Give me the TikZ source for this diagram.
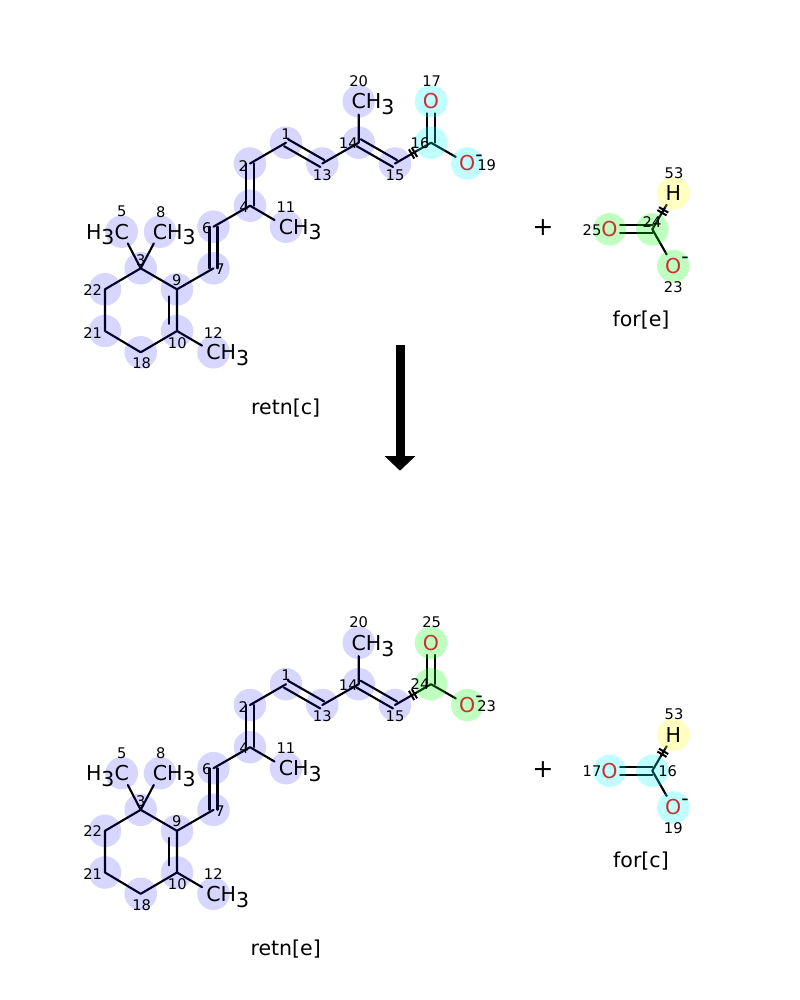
\documentclass[tikz,border=0pt]{standalone}
\usepackage{fontspec}
\setmainfont{DejaVu Sans}
\usetikzlibrary{calc,arrows.meta}
\pgfdeclarelayer{bonds}\pgfdeclarelayer{marks}
\pgfsetlayers{bonds,marks,main}
\definecolor{oxred}{RGB}{200,50,50}
\definecolor{hlblue}{RGB}{0,0,255}
\definecolor{hlcyan}{RGB}{0,255,255}
\definecolor{hlgreen}{RGB}{0,255,0}
\definecolor{hlyellow}{RGB}{255,255,0}
\newcommand\lowthree{\smash{\raisebox{-.28em}{3}}}
\newcommand\minus{\smash{\rlap{\raisebox{.47em}{\color{black}-}}}}
% double bond, both lines off the axis
\newcommand\dbond[3][0pt]{%
  \draw[bond,shorten >=#1] ($(#2)!3pt!90:(#3)$) -- ($(#3)!3pt!-90:(#2)$);
  \draw[bond,shorten >=#1] ($(#2)!3pt!-90:(#3)$) -- ($(#3)!3pt!90:(#2)$);}
% two ticks across a bond
\newcommand\brk[2]{%
  \draw[tick] ($(#1)!0.46!(#2)!4pt!90:(#2)$) -- ($(#1)!0.46!(#2)!4pt!-90:(#2)$);
  \draw[tick] ($(#1)!0.54!(#2)!4pt!90:(#2)$) -- ($(#1)!0.54!(#2)!4pt!-90:(#2)$);}
\tikzset{
  bond/.style={line width=1.6pt,line cap=round},
  tick/.style={line width=1.5pt},
  atm/.style={circle,inner sep=0pt,minimum size=19.5pt,font=\fontsize{15.4}{18}\selectfont},
  num/.style={inner sep=0pt,font=\fontsize{11}{13}\selectfont},
  title/.style={inner sep=0pt,font=\fontsize{15.4}{18}\selectfont},
  hl/.style={fill=#1,fill opacity=0.25},
}
\begin{document}
\begin{tikzpicture}[x=0.75pt,y=-0.75pt]
\useasboundingbox (0,0) rectangle (800,1000);
\foreach \dy/\acol/\ac/\ao/\aom/\fcol/\fc/\fo/\fom/\fnx/\fny/\rname/\fname in
  {0/hlcyan/16/17/19/hlgreen/24/25/23/652/221.7/{retn[c]}/{for[e]},
   541.5/hlgreen/24/25/23/hlcyan/16/17/19/667.7/230/{retn[e]}/{for[c]}}{
\begin{scope}[shift={(0,\dy)}]
  % retinoate skeleton
  \coordinate (c1) at (286,142.7);
  \coordinate (c2) at (250,163.5);
  \coordinate (c13) at (322.3,163.5);
  \coordinate (c14) at (358.7,142.7);
  \coordinate (c15) at (395,163.5);
  \coordinate (ca) at (431,142.7);
  \coordinate (c4) at (250,205.7);
  \coordinate (c6) at (213.5,226.7);
  \coordinate (c7) at (213.5,268.3);
  \coordinate (c9) at (177,289.3);
  \coordinate (c3) at (140.7,268.3);
  \coordinate (c22) at (105,289.3);
  \coordinate (c21) at (105,331);
  \coordinate (c18) at (140.7,352.3);
  \coordinate (c10) at (177,331);
  \node[atm] (c20) at (358.7,101.3) {C\rlap{H\lowthree}};
  \node[atm] (c11) at (286,226.7) {C\rlap{H\lowthree}};
  \node[atm] (c12) at (213.5,352.3) {C\rlap{H\lowthree}};
  \node[atm] (c5) at (121.7,231.7) {\llap{H\lowthree}C};
  \node[atm] (c8) at (160,231.7) {C\rlap{H\lowthree}};
  \node[atm,oxred] (oa) at (431,101.3) {O};
  \node[atm,oxred] (ob) at (467.3,163.5) {O\minus};
  % formate
  \coordinate (fc) at (652.3,229.3);
  \node[atm,oxred] (fo) at (609.5,229.3) {O};
  \node[atm] (fh) at (673.3,193.3) {H};
  \node[atm,oxred] (fom) at (673.3,266) {O\minus};
  % atom numbers
  \foreach \n/\px/\py in {1/286/134, 2/243.3/166, 3/140.7/260, 4/244/206.7,
      5/121.7/211.7, 6/206.7/227.7, 7/220/269.3, 8/160.7/211.7, 9/176.7/280,
      10/177.3/342.7, 11/286/206.7, 12/213.3/332.7, 13/322.3/175,
      14/348.3/143.3, 15/395/175, 18/141.7/363.3, 20/358.7/80.7,
      21/92.7/332.7, 22/92.7/290, \ac/420/142.7, \ao/431.7/80.7,
      \aom/486.7/165, 53/674/172.7, \fo/592/230, \fc/\fnx/\fny,
      \fom/673.3/286.7}
    \node[num] (n\n) at (\px,\py) {\n};
  \node[title] (plus) at (543,228) {\fontsize{19}{20}\selectfont+};
  \node[title] (retn) at (285.7,407.7) {\rname};
  \node[title] (form) at (641,320) {\fname};
  \begin{pgfonlayer}{bonds}
    \draw[bond] (c2) -- (c1) (c13) -- (c14) (c14) -- (c20) (c15) -- (ca)
      (ca) -- (ob) (c4) -- (c11) (c4) -- (c6) (c7) -- (c9) (c9) -- (c3)
      (c3) -- (c5) (c3) -- (c8) (c3) -- (c22) (c22) -- (c21) (c21) -- (c18)
      (c18) -- (c10) (c10) -- (c12) (c9) -- (c10);
    \dbond{c1}{c13}
    \dbond{c14}{c15}
    \dbond{c2}{c4}
    \dbond{c6}{c7}
    \dbond[9pt]{ca}{oa}
    \draw[bond] ($(c9)!0.17!(c10)!6pt!-90:(c10)$) -- ($(c10)!0.17!(c9)!6pt!90:(c9)$);
    \brk{c15}{ca}
    \draw[bond] (fc) -- (fh) (fc) -- (fom);
    \dbond[8pt]{fc}{fo}
    \brk{fc}{fh}
  \end{pgfonlayer}
  \begin{pgfonlayer}{marks}
    \foreach \a in {c1,c2,c13,c14,c15,c4,c6,c7,c9,c3,c22,c21,c18,c10,c20,c11,c12,c5,c8}
      \fill[hl=hlblue,fill opacity=0.16] (\a) circle[radius=12.2pt];
    \foreach \a in {ca,oa,ob}
      \fill[hl=\acol] (\a) circle[radius=12.2pt];
    \foreach \a in {fc,fo,fom}
      \fill[hl=\fcol] (\a) circle[radius=12.2pt];
    \fill[hl=hlyellow] (fh) circle[radius=12.2pt];
  \end{pgfonlayer}
\end{scope}}
% reaction arrow
\coordinate (rxtop) at (400,345);
\coordinate (rxbot) at (400,470.7);
\draw[line width=6.75pt,-{Triangle[width=22.5pt,length=11pt]}] (rxtop) -- (rxbot);
\end{tikzpicture}
\end{document}
